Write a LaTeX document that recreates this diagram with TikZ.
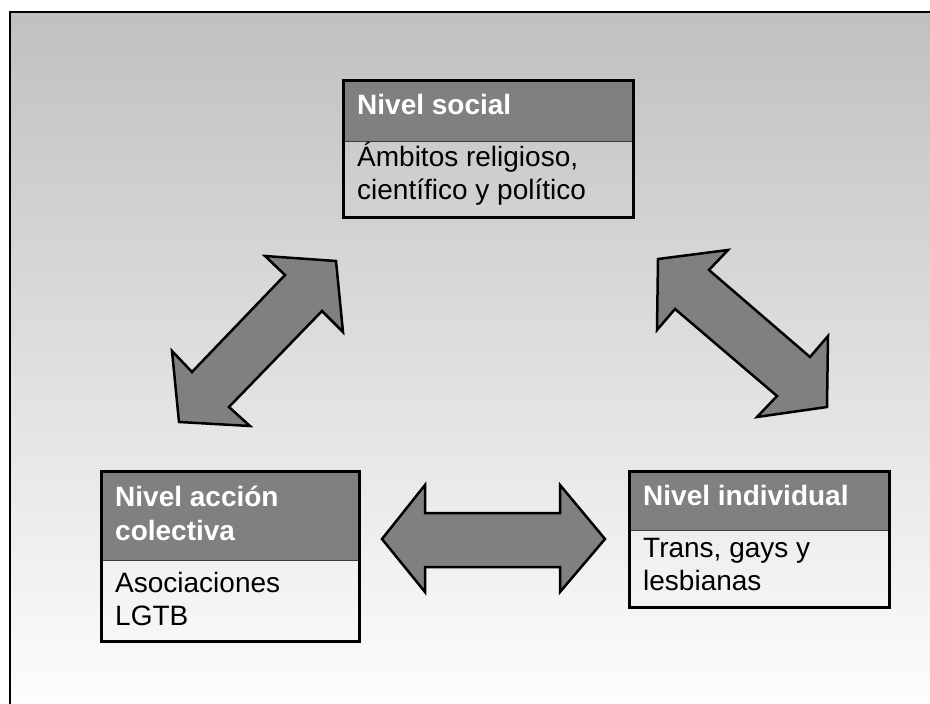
\documentclass[tikz,border=0pt]{standalone}
\usepackage{fontspec}
\setmainfont{Liberation Sans}
\usepackage{tikz}

\definecolor{bgtop}{RGB}{192,192,192}
\definecolor{bgbottom}{RGB}{253,253,253}
\definecolor{headgray}{RGB}{128,128,128}
\definecolor{rulegray}{RGB}{60,60,60}

\tikzset{
    headbox/.style={draw=rulegray, line width=0.8bp, fill=headgray, anchor=north west, inner sep=0pt},
    bodybox/.style={anchor=north west, inner sep=0pt},
    boxline/.style={line width=3bp},
    headtext/.style={anchor=base west, inner sep=0pt, align=left, text=white,
        font=\fontsize{28bp}{34bp}\selectfont\bfseries},
    bodytext/.style={anchor=base west, inner sep=0pt, align=left,
        font=\fontsize{28bp}{33bp}\selectfont},
    blockarrow/.style={draw=black, line width=2.5bp, fill=headgray, line join=miter},
}

\begin{document}
\begin{tikzpicture}[x=1bp, y=-1bp]
    \useasboundingbox (0, 0) rectangle (930, 704);
    \shade[top color=bgtop, bottom color=bgbottom] (10, 12) rectangle (930, 704);
    \draw[line width=2bp] (10, 704) -- (10, 12) -- (930, 12);

    % Nivel social
    \node[headbox, minimum width=290bp, minimum height=60bp] (sochead) at (343, 81) {};
    \node[bodybox, minimum width=290bp, minimum height=75bp] (socbody) at (sochead.south west) {};
    \draw[boxline] (sochead.north west) rectangle (socbody.south east);
    \node[headtext] (soctitle) at ([shift={(14, 34)}]sochead.north west) {Nivel social};
    \node[bodytext] (soctext) at ([shift={(14, 58)}]socbody.north west)
        {Ámbitos religioso,\\científico y político};

    % Nivel accion colectiva
    \node[headbox, minimum width=258bp, minimum height=89bp] (colhead) at (101, 471) {};
    \node[bodybox, minimum width=258bp, minimum height=80bp] (colbody) at (colhead.south west) {};
    \draw[boxline] (colhead.north west) rectangle (colbody.south east);
    \node[headtext] (coltitle) at ([shift={(14, 69)}]colhead.north west) {Nivel acción\\colectiva};
    \node[bodytext] (coltext) at ([shift={(14, 65)}]colbody.north west) {Asociaciones\\LGTB};

    % Nivel individual
    \node[headbox, minimum width=260bp, minimum height=59bp] (indhead) at (629, 471) {};
    \node[bodybox, minimum width=260bp, minimum height=76bp] (indbody) at (indhead.south west) {};
    \draw[boxline] (indhead.north west) rectangle (indbody.south east);
    \node[headtext] (indtitle) at ([shift={(14, 34)}]indhead.north west) {Nivel individual};
    \node[bodytext] (indtext) at ([shift={(14, 60)}]indbody.north west) {Trans, gays y\\lesbianas};

    % double block arrows
    \draw[blockarrow] (336, 261) -- (343, 332) -- (322, 311) -- (229, 407) -- (250, 426)
        -- (179, 422) -- (172, 351) -- (192, 372) -- (285, 275) -- (265, 256) -- cycle;
    \draw[blockarrow] (658, 259) -- (728, 250) -- (709, 270) -- (810, 357) -- (828, 336)
        -- (827, 407) -- (757, 417) -- (777, 396) -- (675, 309) -- (657, 330) -- cycle;
    \draw[blockarrow] (382, 539) -- (425, 485) -- (425, 513) -- (560, 513) -- (560, 485)
        -- (605, 539) -- (560, 592) -- (560, 567) -- (425, 567) -- (425, 592) -- cycle;
\end{tikzpicture}
\end{document}
